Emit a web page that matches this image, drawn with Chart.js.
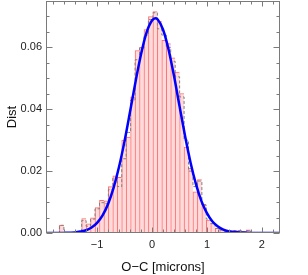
<!DOCTYPE html>
<html>
<head>
<meta charset="utf-8">
<script src="https://cdn.jsdelivr.net/npm/chart.js@4/dist/chart.umd.min.js"></script>
<style>
  html, body { margin: 0; padding: 0; background: #fff; }
  #wrap { width: 308px; height: 275px; }
</style>
</head>
<body>
<div id="wrap"><canvas id="chart"></canvas></div>
<script>
// Histogram of O-C residuals, bin centres in microns
const binCenters = [
  -1.888, -1.807, -1.726, -1.645, -1.564, -1.483, -1.402, -1.321, -1.240, -1.159,
  -1.078, -0.997, -0.916, -0.835, -0.754, -0.673, -0.592, -0.511, -0.430, -0.349,
  -0.268, -0.187, -0.106, -0.025, 0.057, 0.138, 0.219, 0.300, 0.381, 0.462,
  0.543, 0.624, 0.705, 0.786, 0.867, 0.948, 1.029, 1.110, 1.191, 1.272,
  1.353, 1.434, 1.515, 1.596, 1.677, 1.758, 1.839, 1.920, 2.001, 2.082,
  2.163, 2.244, 2.325
]

// red filled histogram
const distRed = [
  0, 0, 0, 0.0025, 0, 0, 0, 0, 0.0047, 0.0030,
  0.0049, 0.0082, 0.0106, 0.0104, 0.0150, 0.0185, 0.0180, 0.0300, 0.0310, 0.0440,
  0.0590, 0.0600, 0.0658, 0.0700, 0.0716, 0.0685, 0.0623, 0.0612, 0.0566, 0.0520,
  0.0451, 0.0278, 0.0209, 0.0133, 0.0173, 0.0093, 0.0042, 0.0031, 0.0015, 0.0010,
  0.0010, 0.0008, 0.0008, 0.0008, 0.0005, 0.0010, 0, 0, 0, 0,
  0, 0, 0
]

// grey dashed step histogram
const distGrey = [
  0, 0, 0, 0.0025, 0, 0, 0, 0, 0.0040, 0.0022,
  0.0045, 0.0078, 0.0098, 0.0095, 0.0140, 0.0178, 0.0150, 0.0240, 0.0325, 0.0430,
  0.0560, 0.0598, 0.0640, 0.0690, 0.0712, 0.0660, 0.0640, 0.0600, 0.0555, 0.0505,
  0.0440, 0.0300, 0.0200, 0.0150, 0.0168, 0.0090, 0.0045, 0.0030, 0.0015, 0.0010,
  0.0008, 0.0008, 0.0008, 0.0008, 0.0005, 0.0008, 0, 0, 0, 0,
  0, 0, 0
]

// fitted curve
const curveX = [-1.93, -1.6, -1.4, -1.3, -1.2, -1.1, -1.0, -0.9, -0.8, -0.7, -0.6, -0.5, -0.4, -0.3, -0.2, -0.1, 0.0, 0.06, 0.1, 0.2, 0.3, 0.4, 0.5, 0.6, 0.7, 0.8, 0.9, 1.0, 1.1, 1.2, 1.3, 1.4, 1.5, 1.7, 1.9, 2.33]
const curveY = [0, 0.00004, 0.0002, 0.0005, 0.0009, 0.0018, 0.0033, 0.0057, 0.0094, 0.0146, 0.0214, 0.0297, 0.0392, 0.0489, 0.0578, 0.0648, 0.0687, 0.0694, 0.0691, 0.0658, 0.0594, 0.0508, 0.0411, 0.0315, 0.0229, 0.0158, 0.0103, 0.0064, 0.0037, 0.0021, 0.0011, 0.0005, 0.0003, 0.00005, 0, 0]

const xTicks = [-1, 0, 1, 2]
const yTicks = [0, 0.02, 0.04, 0.06]

const xMin = -1.93, xMax = 2.33
const yMin = 0, yMax = 0.075

const fontFamily = "'Liberation Sans', Arial, sans-serif"
const axisGrey = "#7a7a7a"

// box around the plot with inward ticks on all four sides
const frameTicks = {
  id: 'frameTicks',
  afterDraw(chart) {
    const { ctx, chartArea: a, scales: { x, y } } = chart
    const L = Math.round(a.left) + 0.5, R = Math.round(a.right) - 0.5
    const T = Math.round(a.top) + 0.5, B = Math.round(a.bottom) - 0.5
    ctx.save()
    ctx.strokeStyle = axisGrey
    ctx.lineWidth = 1
    ctx.strokeRect(L, T, R - L, B - T)
    ctx.beginPath()
    for (let i = -9; i <= 11; i++) {
      const v = i / 5
      const px = Math.round(x.getPixelForValue(v)) + 0.5
      const len = (i % 5 === 0) ? 5 : 3
      ctx.moveTo(px, B); ctx.lineTo(px, B - len)
      ctx.moveTo(px, T); ctx.lineTo(px, T + len)
    }
    for (let j = 0; j <= 15; j++) {
      const v = j * 0.005
      const py = Math.round(y.getPixelForValue(v)) + 0.5
      const len = (j % 4 === 0) ? 6 : 3
      ctx.moveTo(L, py); ctx.lineTo(L + len, py)
      ctx.moveTo(R, py); ctx.lineTo(R - len, py)
    }
    ctx.stroke()
    ctx.restore()
  }
}

new Chart(document.getElementById('chart'), {
  type: 'bar',
  data: {
    datasets: [
      {
        type: 'line',
        label: 'fit',
        data: curveX.map((v, i) => ({ x: v, y: curveY[i] })),
        borderColor: '#0000ff',
        borderWidth: 2.5,
        pointRadius: 0,
        cubicInterpolationMode: 'monotone',
        fill: false,
        order: 0
      },
      {
        type: 'line',
        label: 'grey',
        data: binCenters.map((v, i) => ({ x: v, y: distGrey[i] })),
        borderColor: '#808080',
        borderWidth: 1,
        borderDash: [3, 2],
        stepped: 'middle',
        pointRadius: 0,
        fill: false,
        order: 1
      },
      {
        label: 'red',
        data: binCenters.map((v, i) => ({ x: v, y: distRed[i] })),
        backgroundColor: 'rgba(255, 218, 218, 1)',
        borderColor: 'rgba(255, 110, 110, 1)',
        borderWidth: { left: 1, top: 1, right: 0, bottom: 0 },
        borderSkipped: false,
        barPercentage: 1,
        categoryPercentage: 1,
        order: 2
      }
    ]
  },
  options: {
    responsive: true,
    maintainAspectRatio: false,
    animation: false,
    layout: { padding: { top: 1, right: 28, left: 0, bottom: 0 } },
    plugins: {
      legend: { display: false },
      tooltip: { enabled: false }
    },
    scales: {
      x: {
        type: 'linear',
        min: xMin,
        max: xMax,
        offset: false,
        grid: { display: false, drawTicks: false },
        border: { display: false },
        afterBuildTicks: s => { s.ticks = xTicks.map(v => ({ value: v })) },
        afterFit: s => { s.height = 42; s.paddingLeft = 0; s.paddingRight = 0 },
        ticks: {
          padding: 5,
          color: '#222',
          font: { family: fontFamily, size: 11 },
          callback: v => (v < 0 ? '\u2212' + Math.abs(v) : String(v))
        },
        title: {
          display: true,
          text: 'O\u2212C [microns]',
          color: '#111',
          font: { family: fontFamily, size: 13 },
          padding: { top: 0, bottom: 0 }
        }
      },
      y: {
        min: yMin,
        max: yMax,
        grid: { display: false, drawTicks: false },
        border: { display: false },
        afterBuildTicks: s => { s.ticks = yTicks.map(v => ({ value: v })) },
        afterFit: s => { s.width = 46; s.paddingTop = 0; s.paddingBottom = 0 },
        ticks: {
          padding: 4,
          color: '#222',
          font: { family: fontFamily, size: 11 },
          callback: v => v.toFixed(2)
        },
        title: {
          display: true,
          text: 'Dist',
          color: '#111',
          font: { family: fontFamily, size: 13 },
          padding: { top: 5, bottom: 0 }
        }
      }
    }
  },
  plugins: [frameTicks]
})
</script>
</body>
</html>
